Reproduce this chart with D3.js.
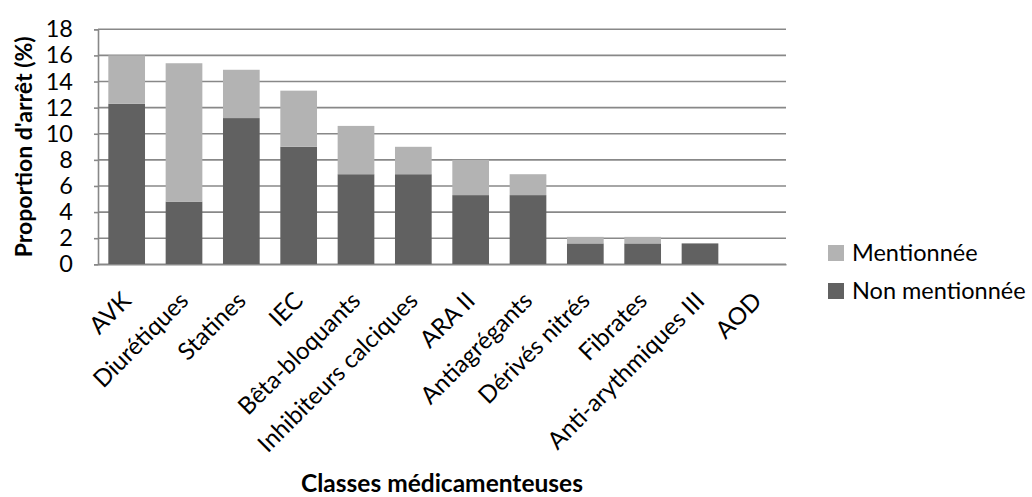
<!DOCTYPE html>
<html>
<head>
<meta charset="utf-8">
<script src="https://cdn.jsdelivr.net/npm/d3@7"></script>
<style>
  html, body { margin: 0; padding: 0; background: #fff; }
  svg { display: block; font-family: Lato, "Open Sans", sans-serif; }
</style>
</head>
<body>
<svg id="chart" width="1032" height="497"></svg>
<script>
const categories = ["AVK", "Diurétiques", "Statines", "IEC", "Bêta-bloquants", "Inhibiteurs calciques", "ARA II", "Antiagrégants", "Dérivés nitrés", "Fibrates", "Anti-arythmiques III", "AOD"];
const nonMentionnee = [12.3, 4.8, 11.2, 9.0, 6.9, 6.9, 5.3, 5.3, 1.6, 1.6, 1.6, 0];
const mentionnee = [3.7, 10.6, 3.7, 4.3, 3.7, 2.1, 2.7, 1.6, 0.5, 0.5, 0, 0];
const yTicks = [0, 2, 4, 6, 8, 10, 12, 14, 16, 18];
const seriesNames = ["Mentionnée", "Non mentionnée"];

const colors = { "Non mentionnée": "#616161", "Mentionnée": "#b3b3b3" };
const plot = { left: 98, right: 786, top: 29.3, bottom: 264.3 };

const svg = d3.select("#chart");

const x = d3.scaleBand().domain(categories).range([plot.left, plot.right]).paddingInner(0.36).paddingOuter(0.18);
const y = d3.scaleLinear().domain([0, 18]).range([plot.bottom, plot.top]);

// gridlines
svg.append("g").selectAll("line").data(yTicks).join("line")
  .attr("x1", plot.left).attr("x2", plot.right)
  .attr("y1", d => y(d)).attr("y2", d => y(d))
  .attr("stroke", "#888").attr("stroke-width", 1.6);

// bars
const rows = categories.map((c, i) => ({ cat: c, "Non mentionnée": nonMentionnee[i], "Mentionnée": mentionnee[i] }));
const stack = d3.stack().keys(["Non mentionnée", "Mentionnée"])(rows);
svg.append("g").selectAll("g").data(stack).join("g")
  .attr("fill", d => colors[d.key])
  .selectAll("rect").data(d => d).join("rect")
  .attr("x", d => x(d.data.cat))
  .attr("width", x.bandwidth())
  .attr("y", d => y(d[1]))
  .attr("height", d => y(d[0]) - y(d[1]));

// y axis
const yAxis = svg.append("g").attr("transform", `translate(${plot.left},0)`)
  .call(d3.axisLeft(y).tickValues(yTicks).tickSize(4).tickPadding(21).tickFormat(d3.format("d")));
yAxis.attr("font-family", "Lato");
yAxis.select(".domain").attr("stroke", "#888").attr("stroke-width", 1.6);
yAxis.selectAll(".tick line").attr("stroke", "#888").attr("stroke-width", 1.6);
yAxis.selectAll("text").attr("font-size", "23.5px").attr("fill", "#000");

// x axis
const xAxis = svg.append("g").attr("transform", `translate(0,${plot.bottom})`)
  .call(d3.axisBottom(x).tickSize(0).tickFormat(""));
xAxis.attr("font-family", "Lato");
xAxis.select(".domain").attr("stroke", "#888").attr("stroke-width", 1.6);
xAxis.selectAll(".tick").append("text")
  .attr("transform", "translate(0,32) rotate(-45)")
  .attr("text-anchor", "end")
  .attr("dy", "0.35em")
  .attr("font-size", "24px")
  .attr("fill", "#000")
  .text(d => d);

// axis titles
svg.append("text")
  .attr("transform", `translate(32,${(plot.top + plot.bottom) / 2}) rotate(-90)`)
  .attr("text-anchor", "middle")
  .attr("font-size", "23px").attr("font-weight", "bold")
  .text("Proportion d'arrêt (%)");

svg.append("text")
  .attr("x", (plot.left + plot.right) / 2).attr("y", 492)
  .attr("text-anchor", "middle")
  .attr("font-size", "24.5px").attr("font-weight", "bold")
  .text("Classes médicamenteuses");

// legend
const legend = svg.append("g").selectAll("g").data(seriesNames).join("g")
  .attr("transform", (d, i) => `translate(828,${253 + i * 38})`);
legend.append("rect").attr("x", 0).attr("y", -8).attr("width", 16).attr("height", 16)
  .attr("fill", d => colors[d]);
legend.append("text").attr("x", 24).attr("dy", "0.35em")
  .attr("font-size", "23.5px").text(d => d);
</script>
</body>
</html>
